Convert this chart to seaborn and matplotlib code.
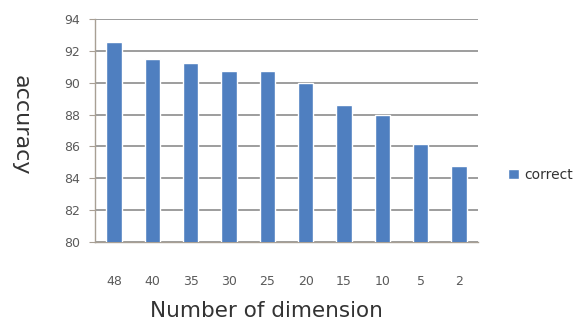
import matplotlib
matplotlib.use("Agg")
import matplotlib.pyplot as plt
from matplotlib.patches import Patch
from matplotlib.ticker import FixedLocator
import seaborn as sns
import pandas as pd

# Accuracy by number of retained dimensions
dimensions = ["48", "40", "35", "30", "25", "20", "15", "10", "5", "2"]
accuracy = [92.55, 91.5, 91.27, 90.75, 90.75, 90.02, 88.58, 88.0, 86.13, 84.78]
series_name = "correct"
y_ticks = [80, 82, 84, 86, 88, 90, 92, 94]

df = pd.DataFrame({"dimension": dimensions, "accuracy": accuracy})

sns.set_theme(style="white")
plt.rcParams["font.family"] = ["DejaVu Sans"]

bar_color = "#4F7FC0"
grid_color = "#8C8C8C"
tick_color = "#5A5A5A"
axis_color = "#A89F94"

fig = plt.figure(figsize=(5.8, 3.25), dpi=100)
ax = fig.add_axes([95 / 580, 1 - 241.7 / 325, (478 - 95) / 580, (241.7 - 19.3) / 325])

sns.barplot(data=df, x="dimension", y="accuracy", order=dimensions,
            color=bar_color, saturation=1, width=0.4, ax=ax, zorder=3)

ax.set_ylim(80, 94)
ax.set_xlim(-0.5, len(dimensions) - 0.5)
ax.set_yticks(y_ticks)
ax.yaxis.grid(True, color=grid_color, linewidth=1.2, zorder=0)
ax.set_axisbelow(True)

for side in ["top", "right"]:
    ax.spines[side].set_visible(False)
for side in ["left", "bottom"]:
    ax.spines[side].set_color(axis_color)
    ax.spines[side].set_linewidth(1.0)

# category boundaries carry the tick marks, labels sit at bar centres
ax.xaxis.set_minor_locator(FixedLocator([i - 0.5 for i in range(len(dimensions) + 1)]))
ax.tick_params(axis="x", which="minor", length=4, width=0.8, color=axis_color, direction="out")
ax.tick_params(axis="x", which="major", length=0, pad=24, labelsize=9, labelcolor=tick_color)
ax.tick_params(axis="y", which="major", length=4, width=0.8, color=axis_color,
               direction="out", pad=7, labelsize=9, labelcolor=tick_color, left=True)

ax.set_xlabel("")
ax.set_ylabel("")

fig.text(266 / 580, 1 - 311 / 325, "Number of dimension", ha="center", va="center",
         fontsize=15.5, color="#333333")
fig.text(21 / 580, 1 - 125 / 325, "accuracy", ha="center", va="center",
         rotation=270, fontsize=16, color="#333333")

fig.legend(handles=[Patch(facecolor=bar_color, label=series_name)],
           loc="center left", bbox_to_anchor=(495 / 580, 1 - 175 / 325),
           frameon=False, fontsize=10, handlelength=0.8, handleheight=0.8,
           handletextpad=0.4, labelcolor="#333333")

fig.savefig("out.png", dpi=100, facecolor="white")
